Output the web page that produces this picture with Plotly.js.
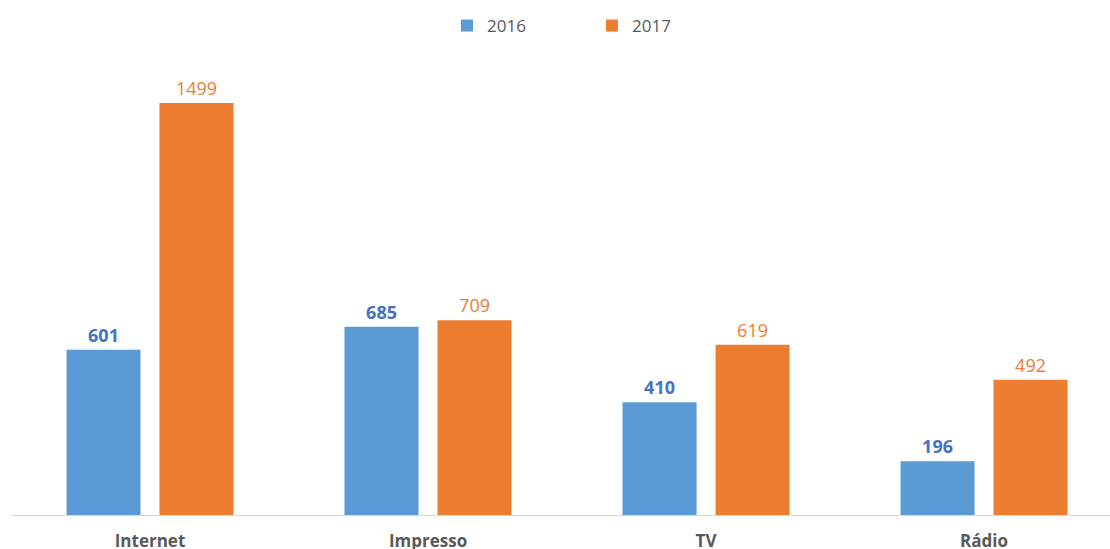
<!DOCTYPE html>
<html>
<head>
<meta charset="utf-8">
<script src="https://cdn.plot.ly/plotly-3.0.1.min.js"></script>
<style>html,body{margin:0;padding:0;background:#fff;}#chart{width:1110px;height:549px;}</style>
</head>
<body>
<div id="chart"></div>
<script>
const categories = ["Internet", "Impresso", "TV", "Rádio"];
const values2016 = [601, 685, 410, 196];
const values2017 = [1499, 709, 619, 492];
const seriesNames = ["2016", "2017"];

const FONT = "Open Sans, Liberation Sans, sans-serif";

const trace2016 = {
  type: "bar",
  name: seriesNames[0],
  x: categories,
  y: values2016,
  text: values2016.map(String),
  textposition: "outside",
  textfont: {family: FONT, size: 18, color: "#4472C4", weight: "bold"},
  marker: {color: "#5B9BD5"},
  cliponaxis: false,
  hoverinfo: "x+y"
};
const trace2017 = {
  type: "bar",
  name: seriesNames[1],
  x: categories,
  y: values2017,
  text: values2017.map(String),
  textposition: "outside",
  textfont: {family: FONT, size: 18, color: "#ED7D31"},
  marker: {color: "#ED7D31"},
  cliponaxis: false,
  hoverinfo: "x+y"
};

const layout = {
  width: 1110,
  height: 549,
  margin: {l: 11, r: 0, t: 60, b: 34},
  paper_bgcolor: "#ffffff",
  plot_bgcolor: "#ffffff",
  font: {family: FONT, color: "#595959"},
  barmode: "group",
  bargap: 0.331,
  bargroupgap: 0.204,
  showlegend: true,
  legend: {
    orientation: "h",
    x: 447 / 1110, xref: "container", xanchor: "left",
    y: 1 - 8 / 549, yref: "container", yanchor: "top",
    font: {family: FONT, size: 17, color: "#595959"},
    itemwidth: 30,
    entrywidth: 100,
    entrywidthmode: "pixels",
    itemclick: false
  },
  xaxis: {
    type: "category",
    range: [-0.5, 3.453],
    showgrid: false,
    zeroline: false,
    showline: true,
    linecolor: "#D9D9D9",
    linewidth: 1,
    ticks: "",
    ticklabelstandoff: 11,
    tickfont: {family: FONT, size: 17, color: "#595959", weight: "bold"},
    fixedrange: true
  },
  yaxis: {
    range: [0, 1655.5],
    visible: false,
    showgrid: false,
    zeroline: false,
    fixedrange: true
  }
};

Plotly.newPlot("chart", [trace2016, trace2017], layout, {displayModeBar: false, staticPlot: true});
</script>
</body>
</html>
